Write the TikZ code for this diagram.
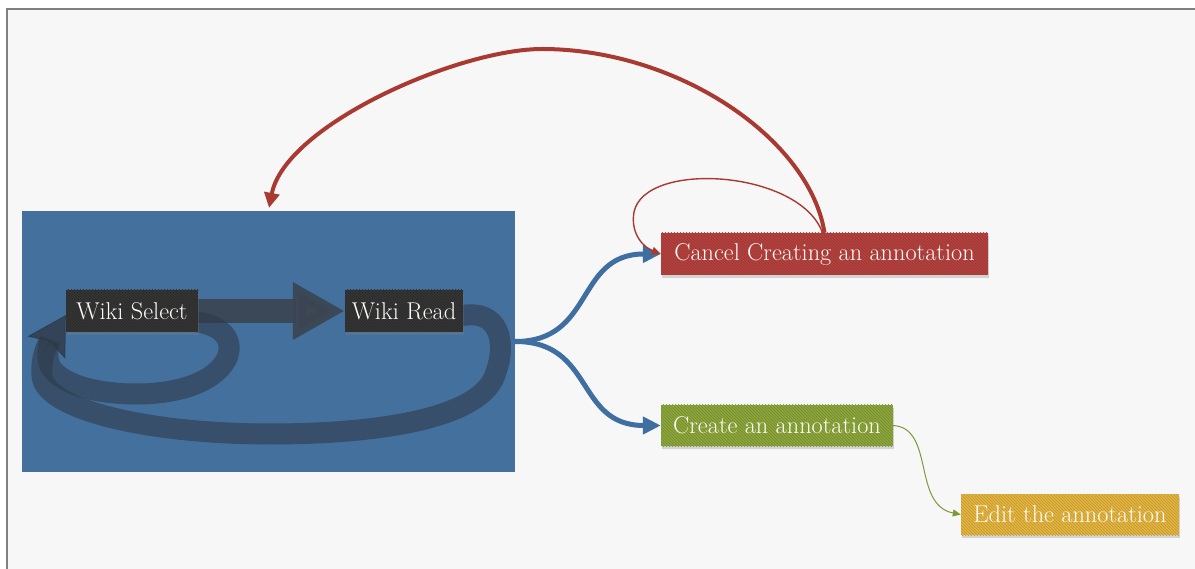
\documentclass[tikz,border=0pt]{standalone}
\usepackage{fontspec}
\usetikzlibrary{arrows.meta,shadows,patterns}

\definecolor{paperbg}{HTML}{F7F7F7}
\definecolor{framegray}{HTML}{808080}
\definecolor{panelblue}{HTML}{44709D}
\definecolor{boxdark}{HTML}{343434}
\definecolor{cancelred}{HTML}{B5423F}
\definecolor{creategreen}{HTML}{8BA63B}
\definecolor{edityellow}{HTML}{E3B43E}
\definecolor{arcred}{HTML}{A93A31}
\definecolor{forkblue}{HTML}{3F6FA0}
\definecolor{linkgreen}{HTML}{7C9A3A}
\definecolor{loopgray}{HTML}{2F3A48}
\definecolor{flowgray}{HTML}{3B4450}
\definecolor{labelwhite}{HTML}{FDFBF6}

\pgfdeclarelayer{paper}
\pgfdeclarelayer{flow}
\pgfsetlayers{paper,flow,main}

\tikzset{
  card/.style={
    fill=#1, inner sep=0pt, minimum height=42pt,
    text=labelwhite, font=\fontsize{24.3}{27}\selectfont,
    drop shadow={shadow xshift=1pt, shadow yshift=-3pt, opacity=0.3},
    postaction={pattern=north west lines, pattern color=#1!85!black}
  },
  loopband/.style={draw=loopgray, draw opacity=0.6, line width=21pt},
}

\begin{document}
\begin{tikzpicture}[x=1pt, y=-1pt]
\useasboundingbox (0,0) rectangle (1195,569);

% paper sheet with its frame
\begin{pgfonlayer}{paper}
  \fill[white] (0,0) rectangle (1195,569);
  \fill[paperbg] (7,9) rectangle (1205,580);
  \draw[framegray, line width=2.5pt] (1205,9) -- (7,9) -- (7,580);
\end{pgfonlayer}

% blue panel holding the wiki states
\begin{pgfonlayer}{paper}
  \node[fill=panelblue, minimum width=493pt, minimum height=261pt, inner sep=0pt]
    (panel) at (268.5,341.5) {};
\end{pgfonlayer}

% state cards
\node[card=boxdark, minimum width=132pt] (sel)  at (132,311) {Wiki Select};
\node[card=boxdark, minimum width=118pt] (read) at (404,311) {Wiki Read};
\node[card=cancelred,   minimum width=327pt] (cancel) at (824.5,254) {Cancel Creating an annotation};
\node[card=creategreen, minimum width=232pt, minimum height=41pt] (create) at (777,425.5) {Create an annotation};
\node[card=edityellow,  minimum width=218pt, minimum height=41pt] (edit)   at (1070,514.5) {Edit the annotation};

% where both return loops meet below Wiki Select
\coordinate (loopfoot) at (45,350);
\coordinate (loopjoin) at (50,340);

% transitions inside the panel
\begin{pgfonlayer}{flow}
  \draw[flowgray, line width=24pt, opacity=0.9,
        -{Triangle[length=52pt,width=54pt]}]
    (sel.east) -- (read.west);
  % Wiki Select back to itself
  \draw[loopband]
    ([xshift=-12pt,yshift=-10pt]sel.east) .. controls (222,322) and (236,340) .. (226,360)
    .. controls (212,385) and (172,394) .. (137,394)
    .. controls (95,394) and (60,384) .. (50,366)
    .. controls (47,358) and (47,350) .. (loopjoin);
  % Wiki Read back to Wiki Select
  \draw[loopband]
    ([xshift=-8pt,yshift=-6pt]read.east) .. controls (502,305) and (506,345) .. (496,372)
    .. controls (484,418) and (380,434) .. (270,434)
    .. controls (150,434) and (45,410) .. (42,376)
    .. controls (41,362) and (44,350) .. (loopjoin);
  % shared head of the two loops
  \draw[loopgray, opacity=0.8, line width=1pt,
        -{Stealth[length=38pt,width=44pt,inset=7pt]}]
    (loopfoot) -- ([yshift=-4pt]sel.west);
\end{pgfonlayer}

% fork from the panel to the two outcomes
\draw[forkblue, line width=5pt, -{Triangle[length=18pt,width=17pt]}]
  (panel.east) .. controls (595,341.5) and (575,254) .. (cancel.west);
\draw[forkblue, line width=5pt, -{Triangle[length=18pt,width=17pt]}]
  (panel.east) .. controls (595,341.5) and (575,425.5) .. (create.west);

% cancelling returns to the wiki panel
\draw[arcred, line width=4pt, -{Triangle[length=15pt,width=15pt]}, shorten >=3pt]
  (cancel.north) .. controls (810,140) and (680,50) .. (544,49)
  .. controls (460,48) and (285,125) .. (panel.north);
\draw[arcred, line width=1.4pt, -{Triangle[length=9pt,width=8pt]}]
  ([xshift=-2pt]cancel.north) .. controls (800,170) and (645,160) .. (634,212)
  .. controls (630,235) and (645,248) .. (cancel.west);

% creating leads on to editing
\draw[linkgreen, line width=1pt, -{Triangle[length=8pt,width=7pt]}]
  (create.east) .. controls (935,428) and (912,505) .. (edit.west);

\end{tikzpicture}
\end{document}
